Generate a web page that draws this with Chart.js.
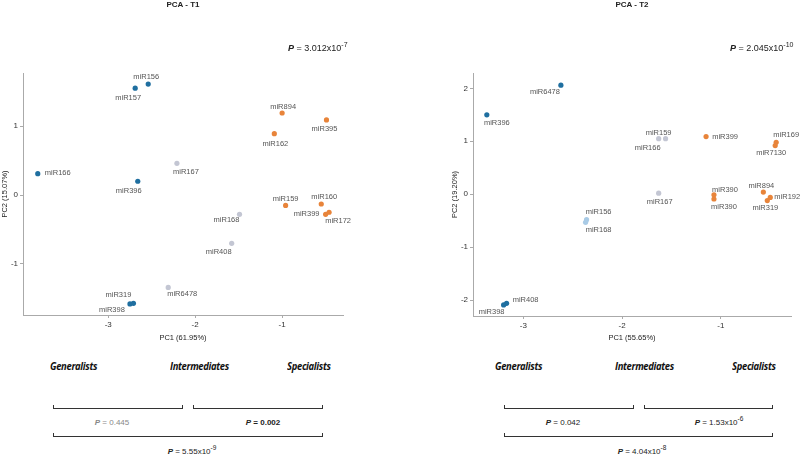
<!DOCTYPE html>
<html>
<head>
<meta charset="utf-8">
<script src="https://cdn.jsdelivr.net/npm/chart.js@4/dist/chart.umd.min.js"></script>
<style>
  body { margin: 0; background: #fff; }
  #page { position: relative; width: 800px; height: 459px; font-family: 'Liberation Sans', Arial, sans-serif; color: #222; }
  .box { position: absolute; top: 0; width: 400px; height: 345px; }
  .txt { position: absolute; white-space: nowrap; line-height: 1; }
  .ttl { font-size: 8px; font-weight: bold; transform: translateX(-50%); }
  .pv { font-size: 9px; }
  .pv sup { font-size: 7px; vertical-align: baseline; position: relative; top: -4px; line-height: 0; }
  .grp { font-family: 'Open Sans', sans-serif; font-style: italic; font-weight: 700; font-size: 11px; letter-spacing: -0.4px; color: #111; transform: scaleX(0.86); transform-origin: 0 0; }
  .br { position: absolute; border: 1.5px solid #333; border-top: none; height: 3px; }
  .pb { font-size: 8px; transform: translateX(-50%); }
  .pb sup { font-size: 6.5px; vertical-align: baseline; position: relative; top: -4px; line-height: 0; }
</style>
</head>
<body>
<div id="page">
  <div class="box" style="left:0"><canvas id="t1"></canvas></div>
  <div class="box" style="left:400px"><canvas id="t2"></canvas></div>

  <div class="txt ttl" style="left:183px; top:1px">PCA - T1</div>
  <div class="txt ttl" style="left:632px; top:1px">PCA - T2</div>
  <div class="txt pv" style="left:288px; top:44px"><b><i>P</i></b> = 3.012x10<sup>-7</sup></div>
  <div class="txt pv" style="left:730px; top:44px"><b><i>P</i></b> = 2.045x10<sup>-10</sup></div>

  <div class="txt grp" style="left:50px; top:360px">Generalists</div>
  <div class="txt grp" style="left:170px; top:360px">Intermediates</div>
  <div class="txt grp" style="left:287px; top:360px">Specialists</div>
  <div class="txt grp" style="left:495px; top:360px">Generalists</div>
  <div class="txt grp" style="left:615px; top:360px">Intermediates</div>
  <div class="txt grp" style="left:732px; top:360px">Specialists</div>

  <div class="br" style="left:53px; width:128px; top:405px"></div>
  <div class="br" style="left:193px; width:128px; top:405px"></div>
  <div class="br" style="left:53px; width:268px; top:433px"></div>
  <div class="br" style="left:504px; width:128px; top:405px"></div>
  <div class="br" style="left:644px; width:127px; top:405px"></div>
  <div class="br" style="left:504px; width:267px; top:433px"></div>

  <div class="txt pb" style="left:112px; top:419px; color:#888"><b><i>P</i></b> = 0.445</div>
  <div class="txt pb" style="left:263px; top:419px"><b><i>P</i> = 0.002</b></div>
  <div class="txt pb" style="left:192px; top:448px"><b><i>P</i></b> = 5.55x10<sup>-9</sup></div>
  <div class="txt pb" style="left:563px; top:419px"><b><i>P</i></b> = 0.042</div>
  <div class="txt pb" style="left:719px; top:419px"><b><i>P</i></b> = 1.53x10<sup>-6</sup></div>
  <div class="txt pb" style="left:642px; top:448px"><b><i>P</i></b> = 4.04x10<sup>-8</sup></div>
</div>
<script>
// PCA - T1
const t1Names = ['miR156','miR157','miR894','miR395','miR162','miR166','miR167','miR396','miR159','miR160','miR399','miR172','miR168','miR408','miR6478','miR319','miR398']
const t1PC1 = [-2.54,-2.69,-1.00,-0.49,-1.09,-3.81,-2.21,-2.66,-0.96,-0.55,-0.50,-0.46,-1.49,-1.58,-2.31,-2.71,-2.75]
const t1PC2 = [1.61,1.55,1.19,1.09,0.89,0.31,0.46,0.20,-0.15,-0.13,-0.28,-0.25,-0.28,-0.70,-1.34,-1.57,-1.58]
const t1Group = ['G','G','S','S','S','G','I','G','S','S','S','S','I','I','I','G','G']

// PCA - T2
const t2Names = ['miR396','miR6478','miR159','miR166','miR399','miR169','miR7130','miR167','miR390','miR390','miR894','miR192','miR319','miR156','miR168','miR408','miR398']
const t2PC1 = [-3.37,-2.62,-1.56,-1.63,-1.15,-0.44,-0.45,-1.63,-1.07,-1.07,-0.57,-0.50,-0.53,-2.36,-2.37,-3.17,-3.20]
const t2PC2 = [1.50,2.06,1.05,1.05,1.09,0.98,0.92,0.02,-0.01,-0.09,0.04,-0.06,-0.12,-0.48,-0.53,-2.06,-2.09]
const t2Group = ['G','G','I','I','S','S','S','I','S','S','S','S','S','IB','IB','G','G']

const t1Ticks = { x: [-3, -2, -1], y: [-1, 0, 1] }
const t2Ticks = { x: [-3, -2, -1], y: [-2, -1, 0, 1, 2] }

// where each label sits relative to its dot (px)
const t1LabelOff = [[-2,-7],[-7,10],[1,-6],[-2,9],[1,10],[20,-1],[9,9],[-9,10],[0,-6],[3,-7],[-19,0],[9,9],[-13,6],[-13,9],[14,7],[-15,-8],[-18,6]]
const t2LabelOff = [[10,8],[-16,7],[-7,-6],[-11,9],[19,0],[10,-7],[-4,7],[1,9],[11,-5],[10,8],[-2,-6],[17,0],[-2,7],[12,-8],[13,8],[19,-3],[-12,7]]

const groupColors = { G: '#1f6fa0', I: '#c3c6d3', IB: '#a9cbe6', S: '#e8843a' }

const buildDatasets = (names, xs, ys, groups, offs) => {
    return Object.keys(groupColors).map(g => {
        const pts = []
        for (let i = 0; i < names.length; i++) {
            if (groups[i] === g) pts.push({ x: xs[i], y: ys[i], name: names[i], off: offs[i] })
        }
        return {
            data: pts,
            backgroundColor: groupColors[g],
            borderWidth: 0,
            pointRadius: 2.6
        }
    })
}

const pointLabels = {
    id: 'pointLabels',
    afterDatasetsDraw(chart) {
        const ctx = chart.ctx
        ctx.save()
        ctx.font = '7.5px "Liberation Sans", Arial, sans-serif'
        ctx.fillStyle = '#555'
        ctx.textAlign = 'center'
        ctx.textBaseline = 'middle'
        chart.data.datasets.forEach((ds, di) => {
            chart.getDatasetMeta(di).data.forEach((el, i) => {
                const p = ds.data[i]
                ctx.fillText(p.name, el.x + p.off[0], el.y + p.off[1])
            })
        })
        ctx.restore()
    }
}

const axisStyle = (title, ticks, size, horizontal) => ({
    type: 'linear',
    min: size.min,
    max: size.max,
    afterBuildTicks: s => { s.ticks = ticks.map(v => ({ value: v })) },
    afterFit: s => { if (horizontal) s.height = size.fit; else s.width = size.fit },
    grid: { drawOnChartArea: false, drawTicks: true, tickLength: 3, color: '#aaa' },
    border: { display: true, color: '#aaa' },
    ticks: { padding: 2, color: '#333', font: { family: 'Liberation Sans', size: 8 } },
    title: { display: true, text: title, color: '#222', padding: { top: 0, bottom: 3 }, font: { family: 'Liberation Sans', size: 7.5 } }
})

const makeChart = (el, datasets, opts) => new Chart(el, {
    type: 'scatter',
    data: { datasets: datasets },
    options: {
        responsive: true,
        maintainAspectRatio: false,
        animation: false,
        layout: { padding: opts.padding },
        plugins: { legend: { display: false }, tooltip: { enabled: false } },
        scales: {
            x: axisStyle(opts.xTitle, opts.ticks.x, opts.x, true),
            y: axisStyle(opts.yTitle, opts.ticks.y, opts.y, false)
        }
    },
    plugins: [pointLabels]
})

makeChart(document.getElementById('t1'), buildDatasets(t1Names, t1PC1, t1PC2, t1Group, t1LabelOff), {
    padding: { top: 73, right: 57, left: 0, bottom: 0 },
    xTitle: 'PC1 (61.95%)',
    yTitle: 'PC2 (15.07%)',
    ticks: t1Ticks,
    x: { min: -3.98, max: -0.30, fit: 30 },
    y: { min: -1.74, max: 1.77, fit: 23 }
})

makeChart(document.getElementById('t2'), buildDatasets(t2Names, t2PC1, t2PC2, t2Group, t2LabelOff), {
    padding: { top: 73, right: 9, left: 50, bottom: 0 },
    xTitle: 'PC1 (55.65%)',
    yTitle: 'PC2 (19.20%)',
    ticks: t2Ticks,
    x: { min: -3.51, max: -0.29, fit: 29 },
    y: { min: -2.30, max: 2.29, fit: 23 }
})
</script>
</body>
</html>
